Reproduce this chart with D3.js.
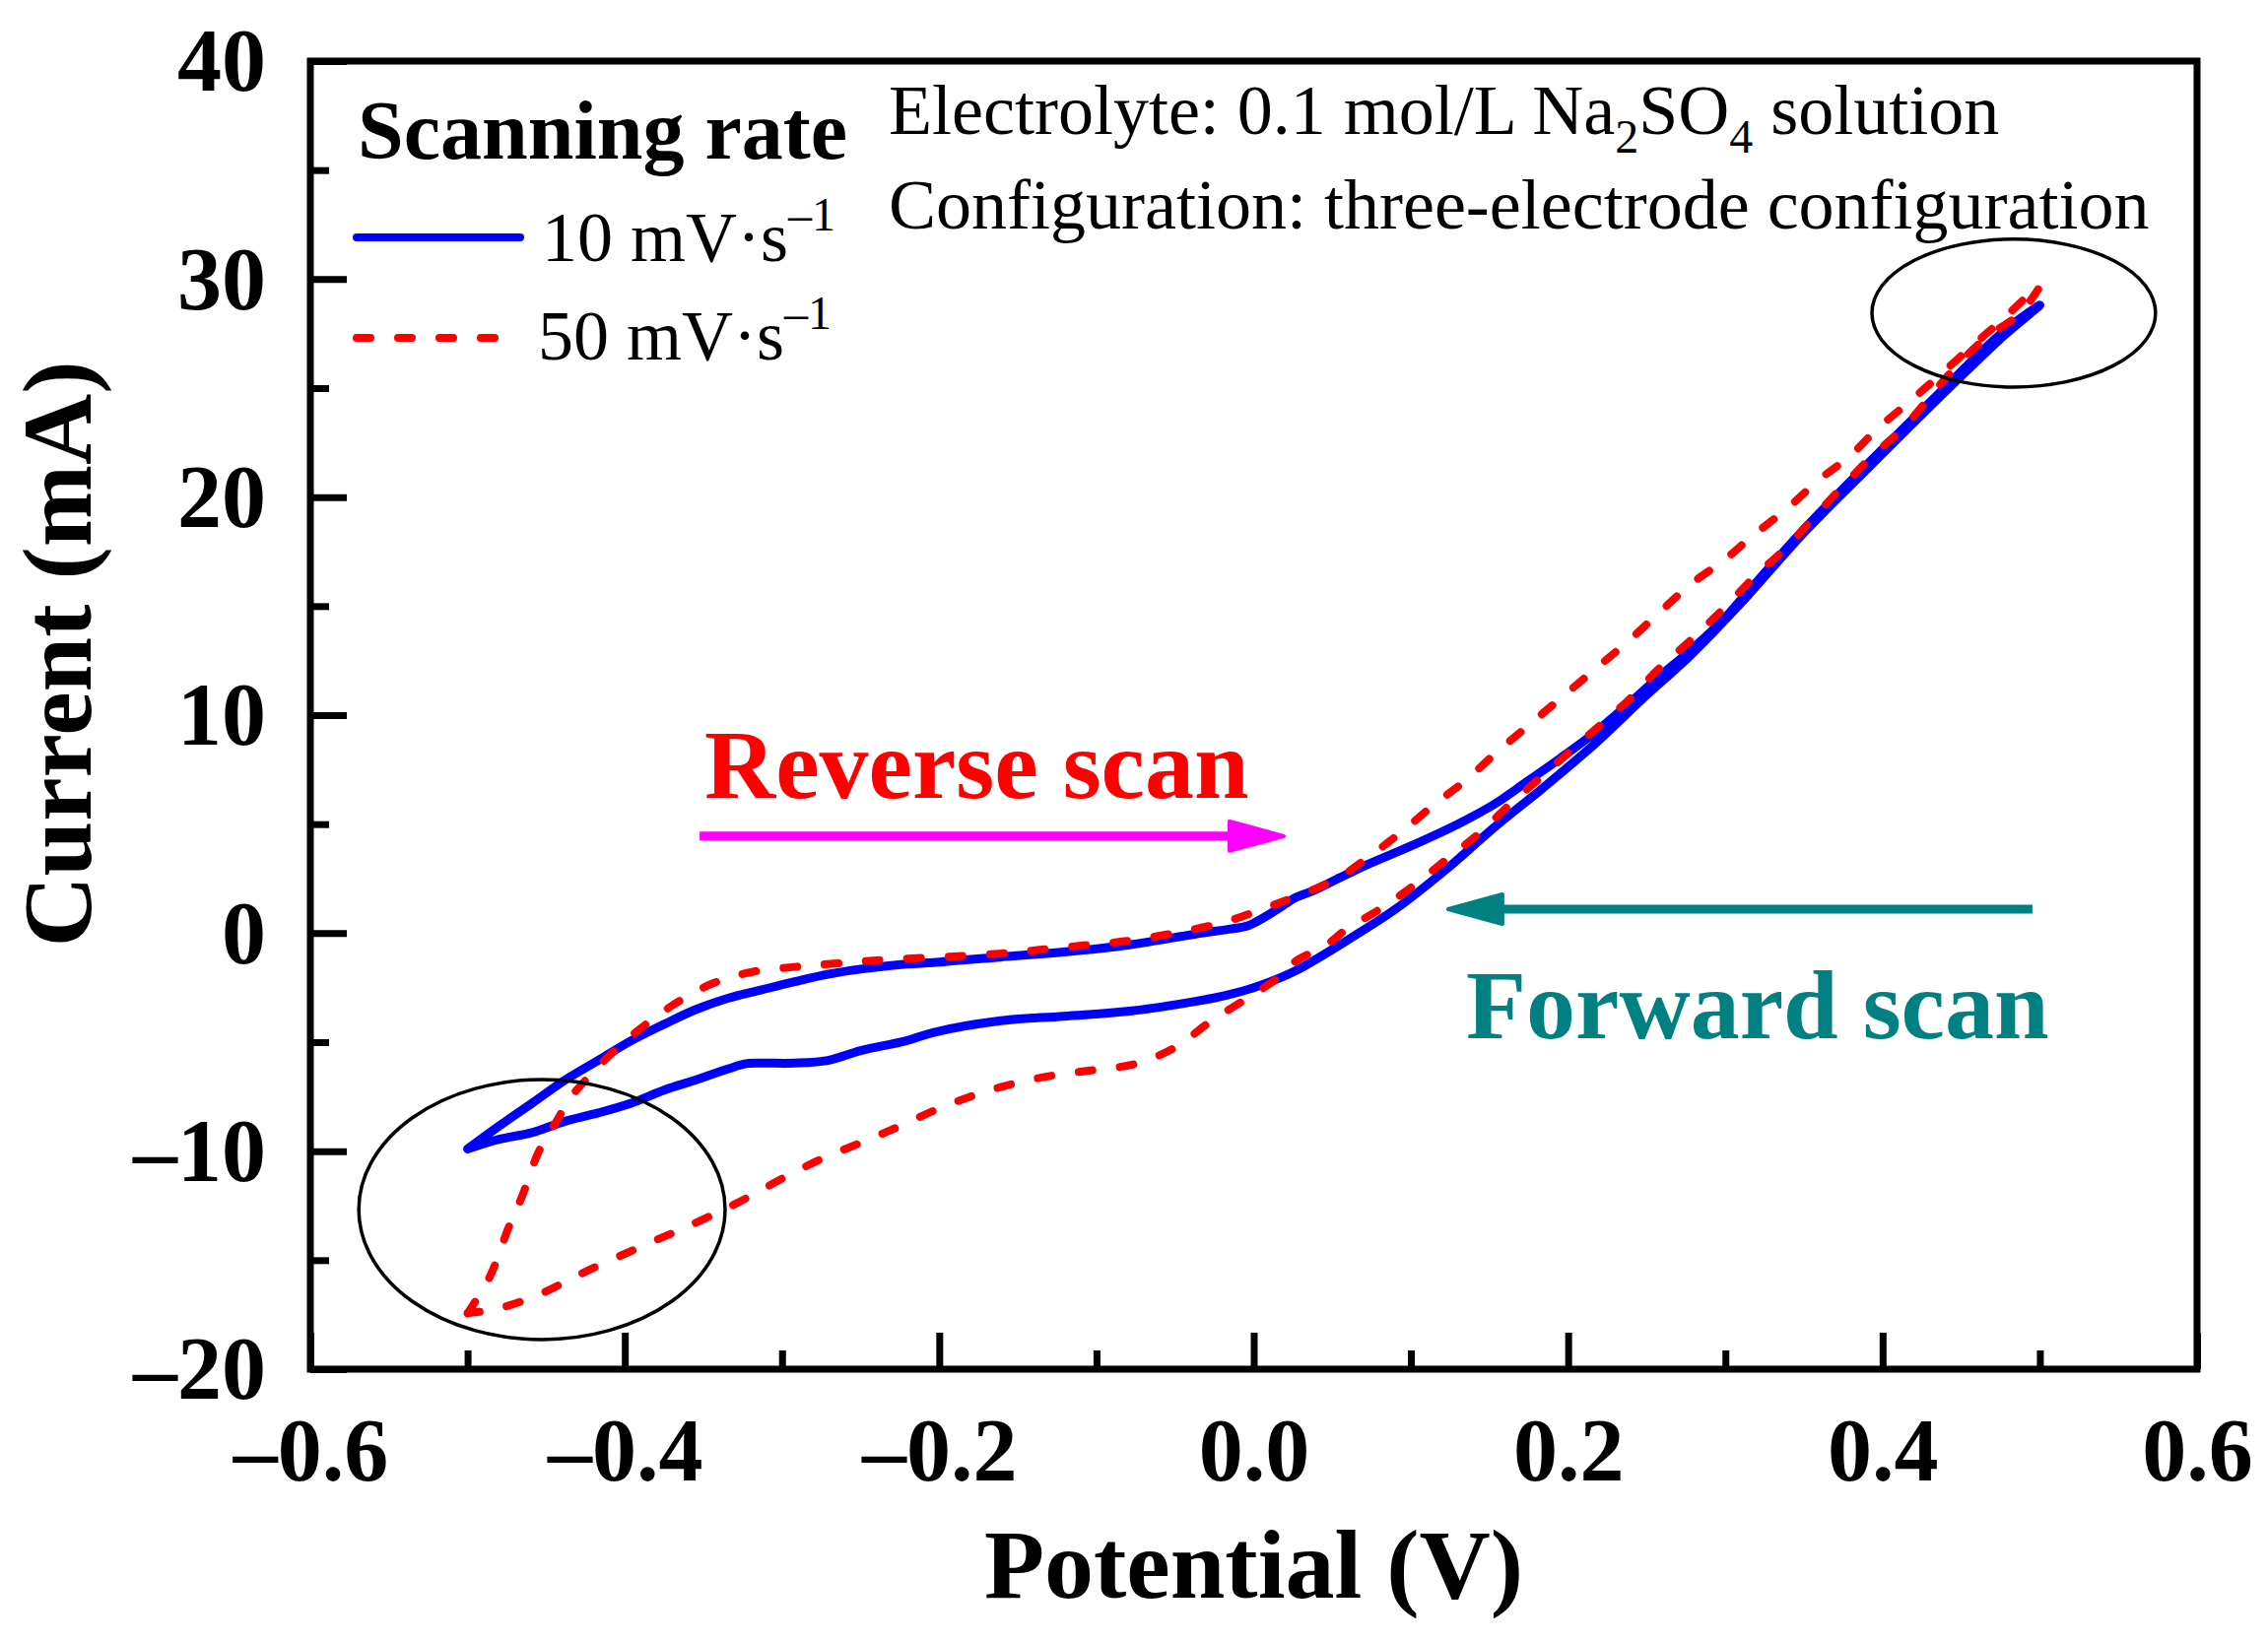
<!DOCTYPE html>
<html><head><meta charset="utf-8">
<script src="https://cdn.jsdelivr.net/npm/d3@7"></script>
<style>html,body{margin:0;padding:0;background:#fff;} svg{display:block;}</style>
</head><body>
<svg id="chart" width="2302" height="1667"></svg>
<script>
// ---------- data ----------
const xTicks = [-0.6, -0.4, -0.2, 0.0, 0.2, 0.4, 0.6];
const xTickLabels = ["–0.6", "–0.4", "–0.2", "0.0", "0.2", "0.4", "0.6"];
const xMinorTicks = [-0.5, -0.3, -0.1, 0.1, 0.3, 0.5];
const yTicks = [-20, -10, 0, 10, 20, 30, 40];
const yTickLabels = ["–20", "–10", "0", "10", "20", "30", "40"];
const yMinorTicks = [-15, -5, 5, 15, 25, 35];
const seriesLabels = ["10 mV·s", "50 mV·s"];

// 10 mV/s loop : [potential V, current mA]
const loop10 = [
  [-0.500,-9.90],[-0.480,-8.85],[-0.459,-7.80],[-0.438,-6.74],[-0.417,-5.84],[-0.396,-4.94],
  [-0.375,-4.18],[-0.355,-3.51],[-0.334,-2.98],[-0.313,-2.60],[-0.292,-2.23],[-0.271,-1.89],
  [-0.250,-1.65],[-0.221,-1.42],[-0.204,-1.35],[-0.162,-1.10],[-0.121,-0.87],[-0.079,-0.54],
  [-0.037,-0.04],[-0.016,0.18],[-0.004,0.33],[0.015,1.09],[0.026,1.61],[0.038,1.95],
  [0.055,2.55],[0.069,3.04],[0.101,4.03],[0.132,5.08],[0.153,5.91],[0.174,6.96],[0.195,8.02],
  [0.216,9.14],[0.237,10.42],[0.257,11.71],[0.278,12.98],[0.299,14.40],[0.310,15.30],
  [0.351,18.60],[0.393,21.70],[0.435,24.70],[0.477,27.60],[0.500,28.80],
  [0.477,27.40],[0.435,24.50],[0.393,21.50],[0.351,18.45],[0.310,15.15],[0.278,12.76],
  [0.247,10.73],[0.216,8.62],[0.184,6.66],[0.153,4.85],[0.122,2.90],[0.090,1.09],
  [0.059,-0.35],[0.026,-1.75],[0.005,-2.38],[-0.016,-2.83],[-0.037,-3.13],
  [-0.079,-3.58],[-0.121,-3.81],[-0.162,-4.03],[-0.204,-4.56],[-0.221,-4.94],[-0.250,-5.39],
  [-0.271,-5.84],[-0.292,-5.96],[-0.313,-5.96],[-0.323,-5.99],[-0.334,-6.22],[-0.355,-6.74],
  [-0.375,-7.20],[-0.396,-7.80],[-0.417,-8.25],[-0.438,-8.63],[-0.459,-9.15],[-0.480,-9.46],
  [-0.500,-9.90]
];

// 50 mV/s loop : [potential V, current mA]
const loop50 = [
  [-0.500,-17.44],[-0.486,-15.78],[-0.474,-13.52],[-0.465,-12.01],[-0.455,-10.06],[-0.444,-8.70],
  [-0.434,-7.50],[-0.423,-6.59],[-0.411,-5.69],[-0.392,-4.49],[-0.369,-3.28],[-0.344,-2.30],
  [-0.319,-1.78],[-0.292,-1.55],[-0.267,-1.40],[-0.240,-1.25],[-0.162,-0.94],[-0.121,-0.65],
  [-0.079,-0.34],[-0.037,0.19],[-0.016,0.56],[0.005,1.09],[0.024,1.60],[0.053,2.50],
  [0.076,3.65],[0.095,4.70],[0.115,5.91],[0.134,6.96],[0.155,8.32],[0.176,9.60],[0.197,10.88],
  [0.218,12.16],[0.239,13.44],[0.257,14.64],[0.278,16.00],[0.299,17.10],[0.318,18.26],
  [0.339,19.46],[0.360,20.82],[0.379,21.87],[0.397,23.15],[0.418,24.43],[0.437,25.64],
  [0.458,26.99],[0.477,28.20],[0.500,29.71],
  [0.487,28.40],[0.468,27.43],[0.452,26.39],[0.435,25.03],[0.414,23.23],[0.393,21.85],
  [0.374,20.45],[0.356,19.05],[0.339,17.70],[0.320,16.45],[0.299,14.90],[0.278,13.44],
  [0.257,12.08],[0.239,10.73],[0.220,9.52],[0.201,8.32],[0.182,7.11],[0.163,5.91],
  [0.143,4.55],[0.122,3.35],[0.101,2.14],[0.080,1.09],[0.059,0.18],[0.047,-0.50],
  [0.026,-1.32],[0.015,-2.07],[-0.004,-2.98],[-0.027,-4.03],[-0.050,-5.24],[-0.075,-5.99],
  [-0.100,-6.26],[-0.127,-6.52],[-0.152,-6.89],[-0.177,-7.42],[-0.202,-8.10],[-0.225,-8.85],
  [-0.246,-9.50],[-0.275,-10.36],[-0.300,-11.26],[-0.323,-12.17],[-0.344,-12.92],[-0.367,-13.67],
  [-0.396,-14.58],[-0.428,-15.63],[-0.453,-16.53],[-0.480,-17.21],[-0.500,-17.44]
];

// annotations in data units
const ellipseCenters = [[-0.4527, -12.68], [0.4834, 28.44]];
const ellipseRadii = [[0.1165, 5.96], [0.0902, 3.39]];
const reverseArrow = [[-0.3524, 4.45], [0.0191, 4.45]];
const forwardArrow = [[0.4953, 1.10], [0.1237, 1.10]];

// ---------- layout ----------
const W = 2302, H = 1667;
const L = 315, R = 2230, T = 62, B = 1390;
const FONT = "'Liberation Serif','Times New Roman',Times,serif";
const svg = d3.select("#chart").attr("width", W).attr("height", H)
  .style("font-family", FONT);
svg.append("rect").attr("width", W).attr("height", H).attr("fill", "#fff");

const x = d3.scaleLinear().domain([-0.6, 0.6]).range([L, R]);
const y = d3.scaleLinear().domain([-20, 40]).range([B, T]);

// curves
const line = d3.line().x(d => x(d[0])).y(d => y(d[1])).curve(d3.curveCatmullRom.alpha(0.5));
svg.append("path").datum(loop10).attr("d", line)
  .attr("fill", "none").attr("stroke", "#0000FF").attr("stroke-width", 9)
  .attr("stroke-linejoin", "round").attr("stroke-linecap", "round");
svg.append("path").datum(loop50).attr("d", line)
  .attr("fill", "none").attr("stroke", "#FF0000").attr("stroke-width", 8)
  .attr("stroke-dasharray", "14,28").attr("stroke-linecap", "round");

// ellipses
ellipseCenters.forEach((c, i) => {
  const r = ellipseRadii[i];
  svg.append("ellipse")
    .attr("cx", x(c[0])).attr("cy", y(c[1]))
    .attr("rx", x(c[0] + r[0]) - x(c[0])).attr("ry", y(c[1]) - y(c[1] + r[1]))
    .attr("fill", "none").attr("stroke", "#000").attr("stroke-width", 3.5);
});

// arrows
function arrow(pts, color) {
  const x0 = x(pts[0][0]), x1 = x(pts[1][0]), yy = y(pts[0][1]);
  const dir = Math.sign(x1 - x0);
  const headLen = 55, headHalf = 15;
  svg.append("line").attr("x1", x0).attr("x2", x1 - dir * headLen * 0.8)
    .attr("y1", yy).attr("y2", yy).attr("stroke", color).attr("stroke-width", 9);
  svg.append("path")
    .attr("d", `M${x1},${yy} L${x1 - dir * headLen},${yy - headHalf} L${x1 - dir * headLen},${yy + headHalf} Z`)
    .attr("fill", color).attr("stroke", color).attr("stroke-width", 4).attr("stroke-linejoin", "round");
}
arrow(reverseArrow, "#FF00FF");
arrow(forwardArrow, "#008080");

// frame
svg.append("rect").attr("x", L).attr("y", T).attr("width", R - L).attr("height", B - T)
  .attr("fill", "none").attr("stroke", "#000").attr("stroke-width", 7);

// axes
const xAxis = d3.axisBottom(x).tickValues(xTicks).tickSize(-37).tickFormat((d, i) => xTickLabels[i]);
const gx = svg.append("g").attr("transform", `translate(0,${B})`).call(xAxis);
gx.select(".domain").remove();
gx.selectAll(".tick line").attr("stroke", "#000").attr("stroke-width", 7);
gx.selectAll(".tick text").attr("y", 113).attr("dy", 0)
  .style("font-family", FONT).style("font-size", "90px").style("font-weight", "bold").attr("fill", "#000");
const xMinor = d3.axisBottom(x).tickValues(xMinorTicks).tickSize(-19).tickFormat("");
const gxm = svg.append("g").attr("transform", `translate(0,${B})`).call(xMinor);
gxm.select(".domain").remove();
gxm.selectAll(".tick line").attr("stroke", "#000").attr("stroke-width", 7);

const yAxis = d3.axisLeft(y).tickValues(yTicks).tickSize(-37).tickFormat((d, i) => yTickLabels[i]);
const gy = svg.append("g").attr("transform", `translate(${L},0)`).call(yAxis);
gy.select(".domain").remove();
gy.selectAll(".tick line").attr("stroke", "#000").attr("stroke-width", 7);
gy.selectAll(".tick text").attr("x", -45).attr("dy", "0.33em")
  .style("font-family", FONT).style("font-size", "90px").style("font-weight", "bold").attr("fill", "#000");
const yMinor = d3.axisLeft(y).tickValues(yMinorTicks).tickSize(-19).tickFormat("");
const gym = svg.append("g").attr("transform", `translate(${L},0)`).call(yMinor);
gym.select(".domain").remove();
gym.selectAll(".tick line").attr("stroke", "#000").attr("stroke-width", 7);

// axis titles
svg.append("text").attr("x", (L + R) / 2).attr("y", 1622).attr("text-anchor", "middle")
  .style("font-size", "100px").style("font-weight", "bold").text("Potential (V)");
svg.append("text").attr("transform", "translate(92,664) rotate(-90)").attr("text-anchor", "middle")
  .style("font-size", "100px").style("font-weight", "bold").text("Current (mA)");

// legend
svg.append("text").attr("x", 363).attr("y", 161)
  .style("font-size", "84px").style("font-weight", "bold").text("Scanning rate");
svg.append("line").attr("x1", 362).attr("x2", 528).attr("y1", 241).attr("y2", 241)
  .attr("stroke", "#0000FF").attr("stroke-width", 8).attr("stroke-linecap", "round");
svg.append("line").attr("x1", 362).attr("x2", 506).attr("y1", 343).attr("y2", 343)
  .attr("stroke", "#FF0000").attr("stroke-width", 8).attr("stroke-dasharray", "14,28")
  .attr("stroke-linecap", "round");
[[550, 265], [546, 365]].forEach((p, i) => {
  const t = svg.append("text").attr("x", p[0]).attr("y", p[1]).style("font-size", "72px");
  t.append("tspan").text(seriesLabels[i]);
  t.append("tspan").attr("dy", -31).style("font-size", "48px").text("–1");
});

// info text
const t1 = svg.append("text").attr("x", 902).attr("y", 136).style("font-size", "72px");
t1.append("tspan").text("Electrolyte: 0.1 mol/L Na");
t1.append("tspan").attr("dy", 19).style("font-size", "48px").text("2");
t1.append("tspan").attr("dy", -19).text("SO");
t1.append("tspan").attr("dy", 19).style("font-size", "48px").text("4");
t1.append("tspan").attr("dy", -19).text(" solution");
svg.append("text").attr("x", 902).attr("y", 232).style("font-size", "72px")
  .text("Configuration: three-electrode configuration");

// scan labels
svg.append("text").attr("x", 715).attr("y", 810).attr("fill", "#FF0000")
  .style("font-size", "100px").style("font-weight", "bold").text("Reverse scan");
svg.append("text").attr("x", 1488).attr("y", 1054).attr("fill", "#008080")
  .style("font-size", "100px").style("font-weight", "bold").text("Forward scan");
</script>
</body></html>
